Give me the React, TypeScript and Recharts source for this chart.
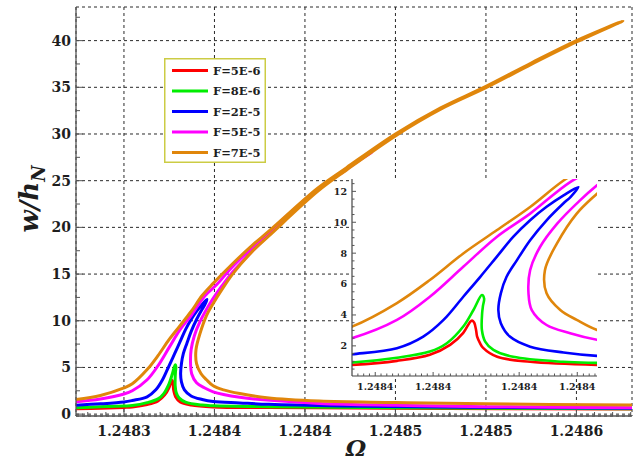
import React from "react";
import { LineChart, Line, XAxis, YAxis, CartesianGrid, Legend } from "recharts";

// series: forcing amplitude F, colours as in the legend
const SERIES_NAMES = ["F=5E-6", "F=8E-6", "F=2E-5", "F=5E-5", "F=7E-5"];
const SERIES_COLORS = ["#ff0000", "#00ee00", "#0000ff", "#ff00ff", "#e0860b"];

// F=5E-6
const OMEGA_F5E6 = [1.2482735, 1.248287, 1.2483, 1.2483046, 1.2483128, 1.2483188, 1.2483225, 1.2483249, 1.24832615, 1.2483265, 1.2483269, 1.24832725, 1.24832743, 1.248328, 1.24832852, 1.2483311, 1.2483371, 1.2483493, 1.24838, 1.24845, 1.2485807];
const W_F5E6 = [0.58, 0.64, 0.72, 0.77, 1.03, 1.42, 2.06, 2.84, 3.55, 3.64, 3.5, 3.0, 2.6, 2.15, 1.87, 1.29, 0.97, 0.77, 0.7, 0.62, 0.55];

// F=8E-6
const OMEGA_F8E6 = [1.2482735, 1.248287, 1.2483, 1.2483046, 1.2483128, 1.2483188, 1.2483219, 1.2483249, 1.24832676, 1.2483283, 1.2483287, 1.2483285, 1.24832834, 1.2483283, 1.2483289, 1.2483304, 1.248334, 1.2483431, 1.2483493, 1.24838, 1.24845, 1.2485807];
const W_F8E6 = [0.68, 0.78, 0.87, 0.92, 1.23, 1.63, 2.17, 3.25, 4.32, 5.29, 5.07, 4.6, 4.1, 3.03, 2.28, 1.74, 1.29, 0.97, 0.9, 0.8, 0.68, 0.58];

// F=2E-5 (upper branch, then back down the middle branch)
const OMEGA_F2E5 = [1.2482735, 1.248287, 1.2483, 1.2483046, 1.2483128, 1.2483176, 1.2483213, 1.2483249, 1.248328, 1.248331, 1.248334, 1.2483371, 1.2483401, 1.2483432, 1.2483459,
  1.2483445, 1.2483431, 1.2483401, 1.2483371, 1.2483347, 1.2483328, 1.24833175, 1.2483313, 1.24833175, 1.2483334, 1.2483371, 1.2483432, 1.2483493, 1.248364, 1.24838, 1.24842, 1.2485, 1.2485807];
const W_F2E5 = [0.96, 1.1, 1.3, 1.46, 1.85, 2.6, 3.68, 5.18, 6.47, 7.76, 9.05, 10.13, 11.0, 11.74, 12.28,
  11.65, 11.2, 10.13, 8.84, 7.55, 6.47, 5.4, 4.32, 3.46, 2.6, 1.95, 1.57, 1.35, 1.2, 1.05, 0.88, 0.72, 0.64];

// F=5E-5
const OMEGA_F5E5 = [1.2482735, 1.248287, 1.2483, 1.2483046, 1.2483128, 1.2483188, 1.2483249, 1.248331, 1.2483371, 1.2483444, 1.2483514, 1.2483602, 1.248379, 1.248407, 1.248423, 1.248437,
  1.248432, 1.248423, 1.248407, 1.248379, 1.2483602, 1.248354, 1.2483493, 1.2483462, 1.248342, 1.2483389, 1.2483371, 1.2483368, 1.2483374, 1.2483401, 1.2483444, 1.2483493, 1.248355, 1.248364, 1.248379, 1.248408, 1.24845, 1.2485, 1.2485807];
const W_F5E5 = [1.32, 1.62, 2.15, 2.5, 3.68, 5.18, 7.12, 9.05, 10.56, 12.6, 13.9, 15.85, 19.3, 24.1, 26.3, 28.05,
  27.45, 26.2, 24.0, 19.0, 15.25, 13.7, 12.39, 11.42, 9.9, 8.4, 6.9, 5.4, 4.32, 3.35, 2.82, 2.39, 2.1, 1.8, 1.5, 1.15, 0.95, 0.8, 0.68];

// F=7E-5
const OMEGA_F7E5 = [1.2482735, 1.248287, 1.2483, 1.2483046, 1.2483128, 1.2483188, 1.2483249, 1.248331, 1.2483371, 1.2483432, 1.2483493, 1.24836, 1.248371, 1.2483807, 1.248407, 1.248423, 1.24845, 1.248475, 1.2485, 1.248525, 1.24855, 1.2485757,
  1.24855, 1.248525, 1.2485, 1.248475, 1.24845, 1.248423, 1.248407, 1.2483807, 1.248371, 1.24836, 1.248354, 1.2483493, 1.2483456, 1.248342, 1.2483398, 1.2483401, 1.2483426, 1.2483456, 1.2483493, 1.248355, 1.248364, 1.248379, 1.248408, 1.24845, 1.2485, 1.2485807];
const W_F7E5 = [1.57, 2.0, 2.8, 3.25, 4.77, 6.26, 7.98, 9.48, 10.99, 12.7, 14.0, 16.1, 18.1, 19.7, 24.2, 26.4, 30.0, 32.8, 35.1, 37.6, 40.0, 42.1,
  39.85, 37.45, 34.95, 32.65, 29.8, 26.15, 23.85, 19.2, 17.45, 15.0, 13.3, 11.85, 10.56, 8.63, 6.9, 5.4, 4.32, 3.68, 3.03, 2.6, 2.2, 1.75, 1.4, 1.25, 1.1, 0.98];

const SERIES_OMEGA = [OMEGA_F5E6, OMEGA_F8E6, OMEGA_F2E5, OMEGA_F5E5, OMEGA_F7E5];
const SERIES_W = [W_F5E6, W_F8E6, W_F2E5, W_F5E5, W_F7E5];

// main axes
const X_MAJOR = [1.2483, 1.24835, 1.2484, 1.24845, 1.2485, 1.24855];
const X_LABELS = ["1.2483", "1.2484", "1.2484", "1.2485", "1.2485", "1.2486"];
const Y_MAJOR = [0, 5, 10, 15, 20, 25, 30, 35, 40];
const Y_LABELS = ["0", "5", "10", "15", "20", "25", "30", "35", "40"];
const X_DOMAIN = [1.2482735, 1.2485807];
const Y_DOMAIN = [-0.2, 43.6];

// inset axes
const INSET_X_MAJOR = [1.24830884, 1.2483194, 1.2483351, 1.2483457];
const INSET_X_LABELS = ["1.2484", "1.2484", "1.2484", "1.2484"];
const INSET_Y_MAJOR = [2, 4, 6, 8, 10, 12];
const INSET_Y_LABELS = ["2", "4", "6", "8", "10", "12"];
const INSET_X_DOMAIN = [1.2483046, 1.2483493];
const INSET_Y_DOMAIN = [0.05, 12.8];

const FONT = "'DejaVu Serif', serif";
const FRAME = "#555";
const TEXT = "#1e1e1e";

const range = (start: number, step: number, count: number) =>
  Array.from({ length: count }, (_, i) => +(start + i * step).toFixed(10));

const withMinor = (majors: number[], minors: number[], tol: number) =>
  [...majors, ...minors.filter((m) => !majors.some((M) => Math.abs(M - m) < tol))].sort((a, b) => a - b);

const X_TICKS = withMinor(X_MAJOR, range(1.24828, 0.00001, 31), 2.5e-6);
const Y_TICKS = withMinor(Y_MAJOR, range(2.5, 5, 9), 0.5);
const INSET_X_TICKS = withMinor(INSET_X_MAJOR, range(1.248305675, 0.000001055, 42), 4e-7);
const INSET_Y_TICKS = withMinor(INSET_Y_MAJOR, range(0.5, 0.5, 25), 0.1);

const seriesData = (i: number) => SERIES_OMEGA[i].map((x, k) => ({ x, w: SERIES_W[i][k] }));

// centripetal Catmull-Rom through every point (curves fold back in x, so no monotone curve)
const catmullRom = (context: any) => {
  let pts: number[][] = [];
  return {
    areaStart() {},
    areaEnd() {},
    lineStart() {
      pts = [];
    },
    point(x: number, y: number) {
      pts.push([+x, +y]);
    },
    lineEnd() {
      if (!pts.length) return;
      context.moveTo(pts[0][0], pts[0][1]);
      for (let i = 0; i < pts.length - 1; i++) {
        const p0 = pts[i - 1] || pts[i];
        const p1 = pts[i];
        const p2 = pts[i + 1];
        const p3 = pts[i + 2] || p2;
        const d1 = Math.sqrt(Math.hypot(p1[0] - p0[0], p1[1] - p0[1]));
        const d2 = Math.sqrt(Math.hypot(p2[0] - p1[0], p2[1] - p1[1]));
        const d3 = Math.sqrt(Math.hypot(p3[0] - p2[0], p3[1] - p2[1]));
        let c1 = p1;
        let c2 = p2;
        if (d1 > 1e-6) {
          const a = 2 * d1 * d1 + 3 * d1 * d2 + d2 * d2;
          const n = 3 * d1 * (d1 + d2);
          c1 = [0, 1].map((k) => (p1[k] * a - p0[k] * d2 * d2 + p2[k] * d1 * d1) / n);
        }
        if (d3 > 1e-6) {
          const b = 2 * d3 * d3 + 3 * d3 * d2 + d2 * d2;
          const m = 3 * d3 * (d3 + d2);
          c2 = [0, 1].map((k) => (p2[k] * b + p1[k] * d3 * d3 - p3[k] * d2 * d2) / m);
        }
        context.bezierCurveTo(c1[0], c1[1], c2[0], c2[1], p2[0], p2[1]);
      }
    },
  };
};

type Side = "bottom" | "top" | "left" | "right";
interface TickSpec {
  side: Side;
  majors: number[];
  labels?: string[];
  tol: number;
  majorLen: number;
  minorLen: number;
  fontSize?: number;
  gap?: number;
}

// inward tick marks (major + minor) with optional labels
const makeTick = (s: TickSpec) => (props: any) => {
  const { x, y, payload } = props;
  const v = Number(payload?.value);
  const idx = s.majors.findIndex((m) => Math.abs(m - v) < s.tol);
  const len = idx >= 0 ? s.majorLen : s.minorLen;
  const label = idx >= 0 && s.labels ? s.labels[idx] : null;
  const textStyle = { fontFamily: FONT, fontWeight: 700, fontSize: s.fontSize, fill: TEXT };
  let x2 = x, y2 = y;
  if (s.side === "bottom") y2 = y - len;
  if (s.side === "top") y2 = y + len;
  if (s.side === "left") x2 = x + len;
  if (s.side === "right") x2 = x - len;
  return (
    <g>
      <line x1={x} y1={y} x2={x2} y2={y2} stroke={FRAME} strokeWidth={1} />
      {label && s.side === "bottom" && (
        <text x={x} y={y + (s.gap || 0)} textAnchor="middle" style={textStyle}>{label}</text>
      )}
      {label && s.side === "left" && (
        <text x={x - (s.gap || 0)} y={y} dy="0.36em" textAnchor="end" style={textStyle}>{label}</text>
      )}
    </g>
  );
};

const LegendBox = () => (
  <svg width={102} height={105} style={{ display: "block" }}>
    <rect x={0.75} y={0.75} width={100.5} height={103.5} fill="#fff" stroke="#cccc44" strokeWidth={1.5} />
    {SERIES_NAMES.map((name, i) => (
      <g key={name}>
        <line x1={8} x2={44} y1={12.5 + i * 20.5} y2={12.5 + i * 20.5} stroke={SERIES_COLORS[i]} strokeWidth={3} />
        <text x={49} y={12.5 + i * 20.5} dy="0.36em" style={{ fontFamily: FONT, fontWeight: 700, fontSize: 11.5, fill: TEXT }}>
          {name}
        </text>
      </g>
    ))}
  </svg>
);

const axisLine = { stroke: FRAME, strokeWidth: 1.3 };

const MainChart = () => (
  <LineChart width={634} height={461} margin={{ top: 7, right: 2, left: 0, bottom: 0 }}>
    <XAxis xAxisId="b" type="number" dataKey="x" domain={X_DOMAIN} allowDataOverflow ticks={X_TICKS} interval={0}
      height={45} tickSize={0} tickMargin={0} tickLine={false} axisLine={axisLine}
      tick={makeTick({ side: "bottom", majors: X_MAJOR, labels: X_LABELS, tol: 2.5e-6, majorLen: 7, minorLen: 4, fontSize: 14, gap: 20 })} />
    <XAxis xAxisId="t" type="number" dataKey="x" orientation="top" domain={X_DOMAIN} allowDataOverflow ticks={X_TICKS} interval={0}
      height={0} tickSize={0} tickMargin={0} tickLine={false} axisLine={axisLine}
      tick={makeTick({ side: "top", majors: X_MAJOR, tol: 2.5e-6, majorLen: 7, minorLen: 4 })} />
    <YAxis yAxisId="l" type="number" domain={Y_DOMAIN} allowDataOverflow ticks={Y_TICKS} interval={0}
      width={76} tickSize={0} tickMargin={0} tickLine={false} axisLine={axisLine}
      tick={makeTick({ side: "left", majors: Y_MAJOR, labels: Y_LABELS, tol: 0.5, majorLen: 7, minorLen: 4, fontSize: 14, gap: 5 })} />
    <YAxis yAxisId="r" type="number" orientation="right" domain={Y_DOMAIN} allowDataOverflow ticks={Y_TICKS} interval={0}
      width={0} tickSize={0} tickMargin={0} tickLine={false} axisLine={axisLine}
      tick={makeTick({ side: "right", majors: Y_MAJOR, tol: 0.5, majorLen: 7, minorLen: 4 })} />
    {/* hidden axes that only carry the major ticks for the dashed grid */}
    <XAxis xAxisId="g" type="number" dataKey="x" domain={X_DOMAIN} allowDataOverflow ticks={X_MAJOR} interval={0} height={0} hide />
    <YAxis yAxisId="g" type="number" domain={Y_DOMAIN} allowDataOverflow ticks={Y_MAJOR} interval={0} width={0} hide />
    <CartesianGrid xAxisId="g" yAxisId="g" stroke="#2a2a2a" strokeDasharray="3 3" strokeWidth={1} />
    {SERIES_NAMES.map((name, i) => (
      <Line key={name} xAxisId="b" yAxisId="l" name={name} data={seriesData(i)} dataKey="w" type={catmullRom as any}
        stroke={SERIES_COLORS[i]} strokeWidth={3} strokeLinejoin="round" dot={false} activeDot={false}
        isAnimationActive={false} />
    ))}
    <Legend layout="vertical" align="center" verticalAlign="middle" content={LegendBox}
      wrapperStyle={{ left: 164, top: 58, width: 102, height: 105 }} />
  </LineChart>
);

const InsetChart = () => (
  <LineChart width={290} height={230} margin={{ top: 9, right: 15, left: 0, bottom: 0 }}>
    <XAxis xAxisId="b" type="number" dataKey="x" domain={INSET_X_DOMAIN} allowDataOverflow ticks={INSET_X_TICKS} interval={0}
      height={24} tickSize={0} tickMargin={0} tickLine={false} axisLine={{ stroke: "#444", strokeWidth: 1.2 }}
      tick={makeTick({ side: "bottom", majors: INSET_X_MAJOR, labels: INSET_X_LABELS, tol: 4e-7, majorLen: 4, minorLen: 2.5, fontSize: 9.5, gap: 14 })} />
    <XAxis xAxisId="t" type="number" dataKey="x" orientation="top" domain={INSET_X_DOMAIN} allowDataOverflow ticks={INSET_X_TICKS} interval={0}
      height={0} tickSize={0} tickMargin={0} tickLine={false} axisLine={{ stroke: "#444", strokeWidth: 1.2 }}
      tick={makeTick({ side: "top", majors: INSET_X_MAJOR, tol: 4e-7, majorLen: 4, minorLen: 2.5 })} />
    <YAxis yAxisId="l" type="number" domain={INSET_Y_DOMAIN} allowDataOverflow ticks={INSET_Y_TICKS} interval={0}
      width={30} tickSize={0} tickMargin={0} tickLine={false} axisLine={{ stroke: "#444", strokeWidth: 1.2 }}
      tick={makeTick({ side: "left", majors: INSET_Y_MAJOR, labels: INSET_Y_LABELS, tol: 0.1, majorLen: 4, minorLen: 2.5, fontSize: 9.5, gap: 5 })} />
    <YAxis yAxisId="r" type="number" orientation="right" domain={INSET_Y_DOMAIN} allowDataOverflow ticks={INSET_Y_TICKS} interval={0}
      width={0} tickSize={0} tickMargin={0} tickLine={false} axisLine={{ stroke: "#444", strokeWidth: 1.2 }}
      tick={makeTick({ side: "right", majors: INSET_Y_MAJOR, tol: 0.1, majorLen: 4, minorLen: 2.5 })} />
    <CartesianGrid xAxisId="b" yAxisId="l" fill="#fff" horizontal={false} vertical={false} />
    {SERIES_NAMES.map((name, i) => (
      <Line key={name} xAxisId="b" yAxisId="l" name={name} data={seriesData(i)} dataKey="w" type={catmullRom as any}
        stroke={SERIES_COLORS[i]} strokeWidth={2.6} strokeLinejoin="round" dot={false} activeDot={false}
        isAnimationActive={false} />
    ))}
  </LineChart>
);

export default function App() {
  return (
    <div style={{ position: "absolute", left: 0, top: 0, width: 634, height: 461, background: "#fff" }}>
      <div style={{ position: "absolute", left: 0, top: 0 }}>
        <MainChart />
      </div>
      <div style={{ position: "absolute", left: 322, top: 170 }}>
        <InsetChart />
      </div>
      <svg width={634} height={461} style={{ position: "absolute", left: 0, top: 0, pointerEvents: "none" }}>
        <text transform="translate(38,199) rotate(-90)" textAnchor="middle"
          style={{ fontFamily: FONT, fontWeight: 700, fontStyle: "italic", fontSize: 26, fill: TEXT }}>
          w/h<tspan dy={7} style={{ fontSize: 18 }}>N</tspan>
        </text>
        <text x={356} y={456} textAnchor="middle"
          style={{ fontFamily: FONT, fontWeight: 700, fontStyle: "italic", fontSize: 23, fill: TEXT }}>
          Ω
        </text>
      </svg>
    </div>
  );
}
